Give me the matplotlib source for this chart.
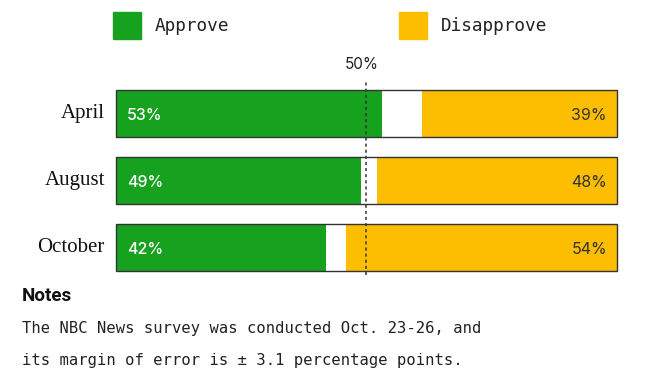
import matplotlib
matplotlib.use('Agg')
import matplotlib.pyplot as plt
from matplotlib.patches import Rectangle

months = ['April', 'August', 'October']
approve = [53, 49, 42]
disapprove = [39, 48, 54]

green = '#16a11f'
yellow = '#fdbd00'
edge = '#333333'

fig = plt.figure(figsize=(6.56, 3.86), dpi=100)
W, H = 656, 386

# main bar axes, in pixel positions of the reference
ax = fig.add_axes([116 / W, 1 - 281 / H, 501 / W, 201 / H])
ax.set_xlim(0, 100)
ax.set_ylim(2.5, -0.5)
ax.axis('off')

ypos = list(range(len(months)))
bh = 0.70
ax.barh(ypos, approve, height=bh, color=green, lw=0, zorder=2)
ax.barh(ypos, disapprove, left=[100 - d for d in disapprove], height=bh,
        color=yellow, lw=0, zorder=2)
outline = ax.barh(ypos, [100] * len(ypos), height=bh, facecolor='none',
                  edgecolor=edge, lw=1.0, zorder=3)
for p in outline:
    p.set_clip_on(False)

for y, m, a, d in zip(ypos, months, approve, disapprove):
    ax.text(-2.2, y, m, ha='right', va='center', fontsize=15,
            family='Liberation Serif', color='#111111')
    ax.text(2.2, y + 0.03, f'{a}%', ha='left', va='center', fontsize=11.5,
            family='Inter', color='white', fontweight='medium', zorder=4)
    ax.text(98, y + 0.03, f'{d}%', ha='right', va='center', fontsize=11.5,
            family='Inter', color='#333333', zorder=4)

ax.axvline(50, ymin=0.03, ymax=0.99, color='#333333', ls=(0, (2, 2)), lw=1.1, zorder=5)
ax.text(49, -0.62, '50%', ha='center', va='bottom', fontsize=11,
        family='Inter', color='#222222', clip_on=False)

# legend
for x0, col, lab in [(113, green, 'Approve'), (399, yellow, 'Disapprove')]:
    fig.patches.append(Rectangle((x0 / W, 1 - 39 / H), 28 / W, 27 / H,
                                 transform=fig.transFigure, color=col))
    fig.text((x0 + 42) / W, 1 - 26 / H, lab, ha='left', va='center',
             fontsize=12.8, family='DejaVu Sans Mono', color='#222222')

# notes
fig.text(22 / W, 1 - 296 / H, 'Notes', ha='left', va='center', fontsize=13.5,
         family='Roboto', fontweight='bold', color='#111111')
fig.text(22 / W, 1 - 328 / H, 'The NBC News survey was conducted Oct. 23-26, and',
         ha='left', va='center', fontsize=11.2, family='DejaVu Sans Mono', color='#222222')
fig.text(22 / W, 1 - 360 / H, 'its margin of error is \u00b1 3.1 percentage points.',
         ha='left', va='center', fontsize=11.2, family='DejaVu Sans Mono', color='#222222')

fig.savefig('out.png', dpi=100, facecolor='white')
